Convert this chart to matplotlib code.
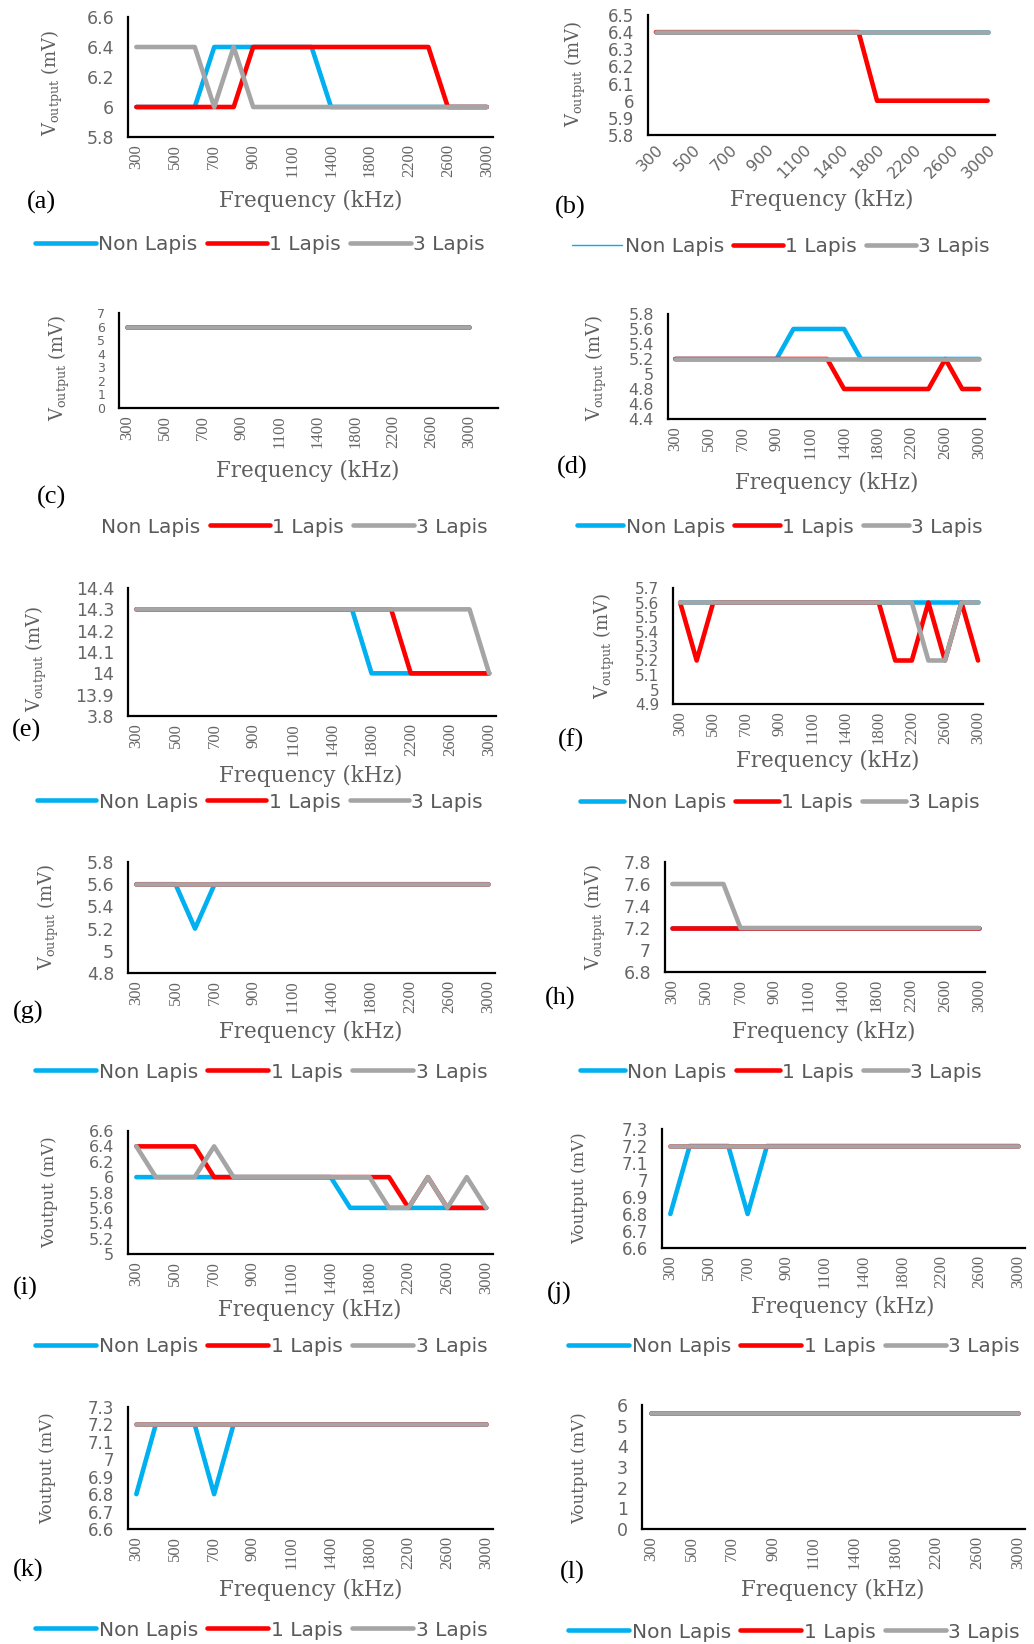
import matplotlib
matplotlib.use("Agg")
import matplotlib.pyplot as plt
from matplotlib.patches import Rectangle

W, H = 1034, 1644

# ---------------- data ----------------
freq = [300, 400, 500, 600, 700, 800, 900, 1000, 1100, 1200,
        1400, 1600, 1800, 2000, 2200, 2400, 2600, 2800, 3000]
freq_labels = [str(f) for f in freq]
series_names = ["Non Lapis", "1 Lapis", "3 Lapis"]

a_non = [6, 6, 6, 6, 6.4, 6.4, 6.4, 6.4, 6.4, 6.4, 6, 6, 6, 6, 6, 6, 6, 6, 6]
a_one = [6, 6, 6, 6, 6, 6, 6.4, 6.4, 6.4, 6.4, 6.4, 6.4, 6.4, 6.4, 6.4, 6.4, 6, 6, 6]
a_three = [6.4, 6.4, 6.4, 6.4, 6, 6.4, 6, 6, 6, 6, 6, 6, 6, 6, 6, 6, 6, 6, 6]

b_non = [6.4] * 19
b_one = [6.4, 6.4, 6.4, 6.4, 6.4, 6.4, 6.4, 6.4, 6.4, 6.4, 6.4, 6.4, 6, 6, 6, 6, 6, 6, 6]
b_three = [6.4] * 19

c_non = [6] * 19
c_one = [6] * 19
c_three = [6] * 19

d_non = [5.2, 5.2, 5.2, 5.2, 5.2, 5.2, 5.2, 5.6, 5.6, 5.6, 5.6, 5.2, 5.2, 5.2, 5.2, 5.2, 5.2, 5.2, 5.2]
d_one = [5.2, 5.2, 5.2, 5.2, 5.2, 5.2, 5.2, 5.2, 5.2, 5.2, 4.8, 4.8, 4.8, 4.8, 4.8, 4.8, 5.2, 4.8, 4.8]
d_three = [5.2] * 19

e_non = [14.3] * 12 + [14.0] * 7
e_one = [14.3] * 14 + [14.0] * 5
e_three = [14.3] * 18 + [14.0]

f_non = [5.6] * 19
f_one = [5.6, 5.2, 5.6, 5.6, 5.6, 5.6, 5.6, 5.6, 5.6, 5.6, 5.6, 5.6, 5.6, 5.2, 5.2, 5.6, 5.2, 5.6, 5.2]
f_three = [5.6, 5.6, 5.6, 5.6, 5.6, 5.6, 5.6, 5.6, 5.6, 5.6, 5.6, 5.6, 5.6, 5.6, 5.6, 5.2, 5.2, 5.6, 5.6]

g_non = [5.6, 5.6, 5.6, 5.2, 5.6, 5.6, 5.6, 5.6, 5.6, 5.6, 5.6, 5.6, 5.6, 5.6, 5.6, 5.6, 5.6, 5.6, 5.6]
g_one = [5.6] * 19
g_three = [5.6] * 19

h_non = [7.2] * 19
h_one = [7.2] * 19
h_three = [7.6, 7.6, 7.6, 7.6, 7.2, 7.2, 7.2, 7.2, 7.2, 7.2, 7.2, 7.2, 7.2, 7.2, 7.2, 7.2, 7.2, 7.2, 7.2]

i_non = [6, 6, 6, 6, 6, 6, 6, 6, 6, 6, 6, 5.6, 5.6, 5.6, 5.6, 5.6, 5.6, 5.6, 5.6]
i_one = [6.4, 6.4, 6.4, 6.4, 6, 6, 6, 6, 6, 6, 6, 6, 6, 6, 5.6, 6, 5.6, 5.6, 5.6]
i_three = [6.4, 6, 6, 6, 6.4, 6, 6, 6, 6, 6, 6, 6, 6, 5.6, 5.6, 6, 5.6, 6, 5.6]

j_non = [6.8, 7.2, 7.2, 7.2, 6.8, 7.2, 7.2, 7.2, 7.2, 7.2, 7.2, 7.2, 7.2, 7.2, 7.2, 7.2, 7.2, 7.2, 7.2]
j_one = [7.2] * 19
j_three = [7.2] * 19

k_non = [6.8, 7.2, 7.2, 7.2, 6.8, 7.2, 7.2, 7.2, 7.2, 7.2, 7.2, 7.2, 7.2, 7.2, 7.2, 7.2, 7.2, 7.2, 7.2]
k_one = [7.2] * 19
k_three = [7.2] * 19

l_non = [5.6] * 19
l_one = [5.6] * 19
l_three = [5.6] * 19

# y tick values / labels
a_yticks = [5.8, 6.0, 6.2, 6.4, 6.6]
b_yticks = [5.8, 5.9, 6.0, 6.1, 6.2, 6.3, 6.4, 6.5]
c_yticks = [0, 1, 2, 3, 4, 5, 6, 7]
d_yticks = [4.4, 4.6, 4.8, 5.0, 5.2, 5.4, 5.6, 5.8]
e_yticks = [13.8, 13.9, 14.0, 14.1, 14.2, 14.3, 14.4]
e_ylabels = ["3.8", "13.9", "14", "14.1", "14.2", "14.3", "14.4"]
f_yticks = [4.9, 5.0, 5.1, 5.2, 5.3, 5.4, 5.5, 5.6, 5.7]
g_yticks = [4.8, 5.0, 5.2, 5.4, 5.6, 5.8]
h_yticks = [6.8, 7.0, 7.2, 7.4, 7.6, 7.8]
i_yticks = [5.0, 5.2, 5.4, 5.6, 5.8, 6.0, 6.2, 6.4, 6.6]
j_yticks = [6.6, 6.7, 6.8, 6.9, 7.0, 7.1, 7.2, 7.3]
k_yticks = [6.6, 6.7, 6.8, 6.9, 7.0, 7.1, 7.2, 7.3]
l_yticks = [0, 1, 2, 3, 4, 5, 6]

colors = ["#00B0F0", "#FF0000", "#A5A5A5"]
TXT = "#666666"

plt.rcParams["mathtext.fontset"] = "dejavuserif"

fig = plt.figure(figsize=(W / 100, H / 100), dpi=100)

VSUB = r"V$_{\mathrm{output}}$ (mV)"
VPLAIN = "Voutput (mV)"

# panel: letter, data, yticks, ylabels, axes box (l,t,r,b) px, ylabel (cx,cy,text,size),
#        xlabel (cx,cy), panel label (x,cy), legend (cx,cy,width), xlim right, ytick size
panels = [
    ("a", (a_non, a_one, a_three), a_yticks, None, (128, 17, 493, 137), (52, 83, VSUB, 13), (311, 201), (27, 202), (260, 245, 460), 18.32, 12.5),
    ("b", (b_non, b_one, b_three), b_yticks, None, (648, 15, 995, 135), (575, 74, VSUB, 13), (822, 200), (555, 207), (781, 247, 428), 18.4, 12),
    ("c", (c_non, c_one, c_three), c_yticks, None, (119, 313, 498, 408), (59, 368, VSUB, 13), (308, 471), (37, 497), (263, 527, 460), 19.5, 9),
    ("d", (d_non, d_one, d_three), d_yticks, None, (668, 314, 985, 419), (596, 368, VSUB, 13), (827, 483), (557, 467), (780, 527, 416), 18.35, 11.5),
    ("e", (e_non, e_one, e_three), e_yticks, e_ylabels, (128, 588, 496, 716), (36, 659, VSUB, 13), (311, 776), (12, 730), (260, 802, 456), 18.35, 12.5),
    ("f", (f_non, f_one, f_three), f_yticks, None, (673, 588, 983, 704), (604, 646, VSUB, 13), (828, 761), (558, 740), (780, 803, 410), 18.3, 11),
    ("g", (g_non, g_one, g_three), g_yticks, None, (128, 862, 495, 973), (48, 917, VSUB, 13), (311, 1032), (13, 1012), (261, 1072, 463), 18.35, 12.5),
    ("h", (h_non, h_one, h_three), h_yticks, None, (665, 862, 985, 972), (595, 917, VSUB, 13), (824, 1032), (545, 998), (781, 1072, 412), 18.35, 12.5),
    ("i", (i_non, i_one, i_three), i_yticks, None, (128, 1131, 493, 1254), (50, 1192, VPLAIN, 12), (310, 1310), (13, 1288), (261, 1347, 463), 18.35, 11.5),
    ("j", (j_non, j_one, j_three), j_yticks, None, (662, 1129, 1025, 1248), (580, 1188, VPLAIN, 12), (843, 1307), (547, 1293), (794, 1347, 462), 18.35, 12),
    ("k", (k_non, k_one, k_three), k_yticks, None, (128, 1407, 493, 1529), (48, 1468, VPLAIN, 12), (311, 1590), (13, 1570), (261, 1630, 463), 18.35, 12),
    ("l", (l_non, l_one, l_three), l_yticks, None, (642, 1405, 1025, 1529), (580, 1468, VPLAIN, 12), (833, 1590), (560, 1572), (794, 1632, 462), 18.35, 12.5),
]

LEG_FS = 14.5
LEG_EM = LEG_FS * 100 / 72.0

xs = list(range(len(freq)))

for (letter, data, yt, ylab, box, yl, xl, pl, lg, xr, yfs) in panels:
    l, t, r, b = box
    ax = fig.add_axes([l / W, 1 - b / H, (r - l) / W, (b - t) / H])
    handles = []
    for vals, col, name in zip(data, colors, series_names):
        ln, = ax.plot(xs, vals, color=col, lw=3.3, solid_joinstyle="round",
                      solid_capstyle="round", label=name)
        handles.append(ln)
    ax.set_xlim(-0.43, xr)
    ax.set_ylim(yt[0], yt[-1])
    ax.set_yticks(yt)
    labs = ylab if ylab is not None else [f"{v:g}" for v in yt]
    ax.set_yticklabels(labs, fontfamily="DejaVu Sans", fontsize=yfs, color=TXT)
    ax.set_xticks(xs[::2])
    if letter == "b":
        ax.set_xticklabels(freq_labels[::2], fontfamily="DejaVu Sans", fontsize=11.5,
                           color=TXT, rotation=45, ha="right", va="top",
                           rotation_mode="anchor")
    else:
        ax.set_xticklabels(freq_labels[::2], fontfamily="Liberation Serif", fontsize=12,
                           color=TXT, rotation=90)
    ax.tick_params(axis="both", length=0)
    ax.tick_params(axis="y", pad=10)
    ax.tick_params(axis="x", pad=5)
    for s in ("top", "right"):
        ax.spines[s].set_visible(False)
    for s in ("left", "bottom"):
        ax.spines[s].set_color("black")
        ax.spines[s].set_linewidth(1.6)

    ax.set_xlabel("Frequency (kHz)", fontfamily="DejaVu Serif", fontsize=15.5, color="#5f5f5f")
    ax.xaxis.set_label_coords(xl[0] / W, 1 - xl[1] / H, transform=fig.transFigure)
    ax.xaxis.label.set_va("center")

    ax.set_ylabel(yl[2], fontfamily="DejaVu Serif", fontsize=yl[3], color="#5f5f5f")
    ax.yaxis.set_label_coords(yl[0] / W, 1 - yl[1] / H, transform=fig.transFigure)
    ax.yaxis.label.set_va("center")

    fig.text(pl[0] / W, 1 - pl[1] / H, f"({letter})", ha="left", va="center",
             fontfamily="Liberation Serif", fontsize=19, color="black")

    hl = 3.0 - (460 - lg[2]) / 3.0 / LEG_EM
    leg = ax.legend(handles=handles, loc="center", bbox_to_anchor=(lg[0] / W, 1 - lg[1] / H),
                    bbox_transform=fig.transFigure, ncol=3, frameon=False,
                    handlelength=hl, handletextpad=0.12, columnspacing=0.45,
                    borderpad=0, borderaxespad=0,
                    prop={"family": "DejaVu Sans", "size": LEG_FS}, labelcolor="#595959")
    if letter == "b":
        leg.get_lines()[0].set_linewidth(1.0)

# the (c) legend is cut off at its left side in the original
fig.add_artist(Rectangle((0, 1 - 545 / H), 102 / W, 36 / H, transform=fig.transFigure,
                         facecolor="white", edgecolor="none", zorder=10))

fig.savefig("out.png", dpi=100, facecolor="white")
